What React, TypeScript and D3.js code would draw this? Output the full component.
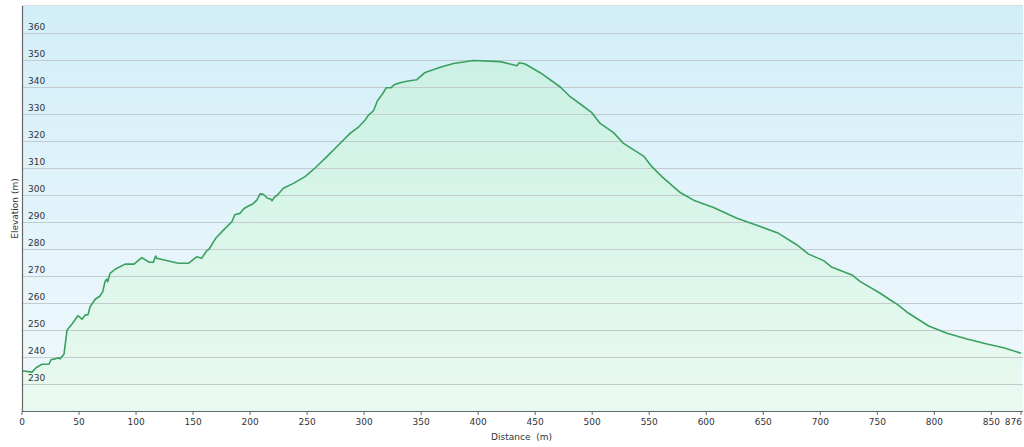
import React from "react";
import * as d3 from "d3";

const distances = [
  0, 8.8, 12.3, 17.5, 23.7, 25.4, 28.9, 31.6, 33.3, 36.8, 39.5, 43.9, 49, 52.6, 55.3, 57.9, 59.6, 64,
  68.4, 70.8, 72.8, 74.2, 75.1, 77.2, 81.6, 90.4, 98.2, 105, 111.7, 115.2, 117.2, 118.1, 137.1, 145.9,
  153.2, 157.6, 162, 164, 169.9, 176.6, 184, 186.8, 191.2, 194.7, 198.5, 202.4, 205.9, 208.8, 211.7,
  215.2, 218.1, 219.3, 221, 224, 229.2, 238, 248.2, 257, 267.3, 277.5, 287.7, 295, 300.9, 303.8, 308.2,
  311.7, 316.4, 319.3, 323.4, 326.3, 331.6, 337.4, 346.2, 353.5, 366.7, 378.4, 395.9, 419.3, 434, 436,
  441.2, 454.4, 472, 480.7, 489.5, 499.7, 507, 518.7, 527.5, 545, 552.3, 561.1, 577.2, 588.9, 606.4,
  626.9, 647.4, 663.4, 679.6, 689.7, 702.9, 710.3, 727.8, 735.1, 752.6, 761.4, 767.3, 777.5, 795, 811.1,
  828.7, 846.2, 860.8, 876,
];
const elevations = [
  234.9, 234.4, 236, 237.3, 237.3, 239, 239.3, 239.7, 239.3, 241, 250, 252.2, 255.3, 254, 255.5, 255.7,
  258.5, 261.3, 262.6, 264.2, 267.9, 268.8, 267.9, 271, 272.5, 274.4, 274.4, 276.8, 275.1, 275.1, 277.4,
  276.6, 274.7, 274.7, 277.1, 276.6, 279.4, 279.9, 284, 287, 290.1, 292.8, 293.2, 295, 295.9, 296.7,
  298.1, 300.4, 300.3, 298.8, 298.5, 297.9, 299, 300, 302.5, 304.3, 306.8, 310, 314.2, 318.5, 322.8,
  325.1, 327.8, 329.6, 331.2, 334.9, 337.6, 339.7, 339.7, 340.8, 341.6, 342.1, 342.7, 345.4, 347.3,
  348.7, 349.8, 349.4, 347.9, 349, 348.5, 345.3, 340, 336.4, 333.7, 330.5, 326.5, 323.1, 319.1, 314.4,
  310.5, 306.8, 300.9, 298.1, 295.4, 291.4, 288.3, 285.8, 281.5, 278.1, 275.7, 273.2, 270.4, 267.9,
  263.6, 261.1, 259.6, 256.2, 251.5, 248.8, 246.7, 244.8, 243.4, 241.4,
];
const xTicks = [0, 50, 100, 150, 200, 250, 300, 350, 400, 450, 500, 550, 600, 650, 700, 750, 800, 850, 876];
const yTicks = [230, 240, 250, 260, 270, 280, 290, 300, 310, 320, 330, 340, 350, 360];

const W = 1024;
const H = 447;
const L = 22;
const R = 1021;
const T = 6;
const B = 411;

export default function App() {
  const x = d3.scaleLinear().domain([0, 876]).range([L, R]);
  const y = d3.scaleLinear().domain([220, 370]).range([B, T]);
  const pts: [number, number][] = distances.map((d, i) => [d, elevations[i]]);
  const line = d3.line<[number, number]>().x((p) => x(p[0])).y((p) => y(p[1]))(pts) || "";
  const area =
    d3
      .area<[number, number]>()
      .x((p) => x(p[0]))
      .y0(B)
      .y1((p) => y(p[1]))(pts) || "";
  const font = "'DejaVu Sans', Verdana, sans-serif";
  const lastTick = xTicks[xTicks.length - 1];
  return (
    <svg
      width={W}
      height={H}
      style={{ position: "absolute", left: 0, top: 0, display: "block" }}
      fontFamily={font}
    >
      <defs>
        <linearGradient id="bg" x1="0" y1="0" x2="0" y2="1">
          <stop offset="0%" stopColor="#d2eef9" />
          <stop offset="100%" stopColor="#f1f9fc" />
        </linearGradient>
        <linearGradient id="fill" x1="0" y1="0" x2="0" y2="1">
          <stop offset="0%" stopColor="#cbf1e4" />
          <stop offset="100%" stopColor="#eafaf0" />
        </linearGradient>
      </defs>
      <rect x={0} y={0} width={W} height={H} fill="#ffffff" />
      <rect x={L} y={T} width={R - L + 2} height={B - T} fill="url(#bg)" />
      <line x1={L} x2={R + 2} y1={T - 0.5} y2={T - 0.5} stroke="#dcdcdc" strokeWidth={1} />
      <path d={area} fill="url(#fill)" />
      {yTicks.map((t) => (
        <line key={"g" + t} x1={L} x2={R + 2} y1={Math.round(y(t)) + 0.5} y2={Math.round(y(t)) + 0.5} stroke="#c3cbcf" strokeWidth={1.2} />
      ))}
      <path d={line} fill="none" stroke="#3aa05e" strokeWidth={1.6} strokeLinejoin="round" />
      {yTicks.map((t) => (
        <text key={"yl" + t} x={L + 6} y={y(t) - 3} fontSize={9} fill="#333">
          {t}
        </text>
      ))}
      <line x1={L + 0.5} x2={L + 0.5} y1={T} y2={B} stroke="#666" strokeWidth={1.2} />
      <line x1={L} x2={R + 2} y1={B + 0.5} y2={B + 0.5} stroke="#666" strokeWidth={1.2} />
      {xTicks.map((t) => (
        <g key={"x" + t}>
          <line x1={x(t)} x2={x(t)} y1={B} y2={B + 4} stroke="#666" strokeWidth={1} />
          <text
            x={t === lastTick ? x(t) + 1 : x(t)}
            y={425}
            fontSize={9}
            fill="#333"
            textAnchor={t === lastTick ? "end" : "middle"}
          >
            {t}
          </text>
        </g>
      ))}
      <text x={(L + R) / 2} y={440} fontSize={9} fill="#333" textAnchor="middle" style={{ whiteSpace: "pre" }}>
        {"Distance  (m)"}
      </text>
      <text
        transform={`translate(18, ${(T + B) / 2}) rotate(-90)`}
        fontSize={9}
        fill="#333"
        textAnchor="middle"
      >
        Elevation (m)
      </text>
    </svg>
  );
}
